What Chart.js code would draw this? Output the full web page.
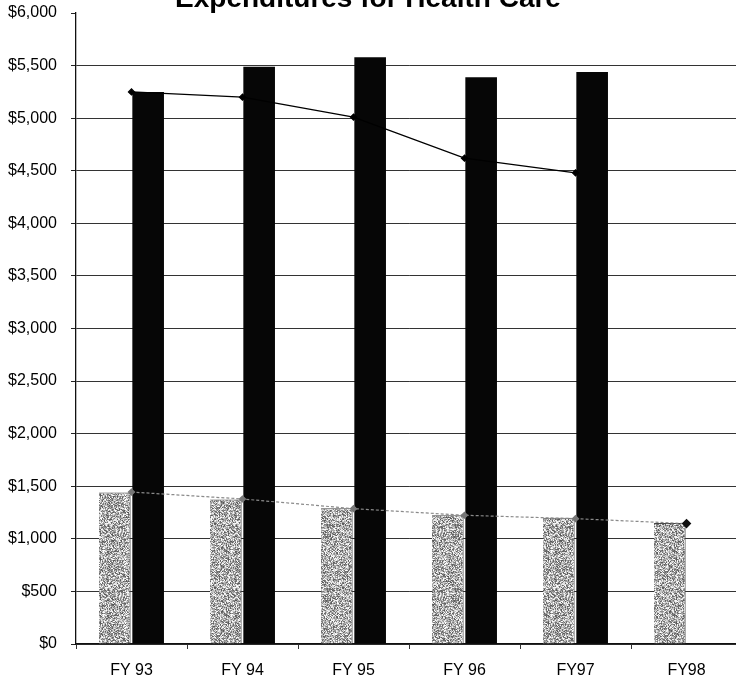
<!DOCTYPE html>
<html>
<head>
<meta charset="utf-8">
<script src="https://cdn.jsdelivr.net/npm/chart.js@4.4.1/dist/chart.umd.min.js"></script>
<style>
  html, body { margin: 0; padding: 0; background: #fff; overflow: hidden; }
  #wrap { position: absolute; left: 0; top: 0; width: 760px; height: 686px; }
</style>
</head>
<body>
<div id="wrap"><canvas id="c"></canvas></div>
<script>
// ---- data ----
const categories = ['FY 93', 'FY 94', 'FY 95', 'FY 96', 'FY97', 'FY98'];
const greyBars   = [1440, 1375, 1290, 1225, 1200, 1150];
const blackBars  = [5250, 5490, 5580, 5390, 5440, null];
const upperLine  = [5250, 5200, 5010, 4620, 4480, null];
const lowerLine  = [1445, 1379, 1287, 1224, 1192, 1145];
const yTicks = { min: 0, max: 6000, step: 500 };
const titleText = 'Expenditures for Health Care';

// ---- stipple pattern for the grey bars ----
function makeStipple() {
  const pc = document.createElement('canvas');
  pc.width = 64; pc.height = 64;
  const g = pc.getContext('2d');
  const img = g.createImageData(64, 64);
  for (let y = 0; y < 64; y++) {
    for (let x = 0; x < 64; x++) {
      let n = Math.sin(x * 12.9898 + y * 78.233) * 43758.5453;
      n = n - Math.floor(n);
      const v = Math.round(85 + n * 175);
      const i = (y * 64 + x) * 4;
      img.data[i] = v; img.data[i + 1] = v; img.data[i + 2] = v; img.data[i + 3] = 255;
    }
  }
  g.putImageData(img, 0, 0);
  return g.createPattern(pc, 'repeat');
}
const stipple = makeStipple();

const FONT = 'Liberation Sans, Arial, Helvetica, sans-serif';

const titlePlugin = {
  id: 'croppedTitle',
  afterDraw(chart) {
    const ctx = chart.ctx;
    ctx.save();
    ctx.font = 'bold 28px ' + FONT;
    ctx.fillStyle = '#000';
    ctx.textAlign = 'center';
    ctx.textBaseline = 'alphabetic';
    ctx.fillText(titleText, 368, 7);
    ctx.restore();
  }
};

new Chart(document.getElementById('c'), {
  type: 'bar',
  data: {
    labels: categories,
    datasets: [
      {
        type: 'line', data: upperLine, order: 0,
        borderColor: '#000', borderWidth: 1.3,
        pointStyle: 'rectRot', pointRadius: 3,
        pointBackgroundColor: '#000', pointBorderColor: '#000',
        tension: 0, spanGaps: false
      },
      {
        type: 'line', data: lowerLine, order: 0,
        borderColor: '#8a8a8a', borderWidth: 1.2, borderDash: [3, 2],
        pointStyle: 'rectRot',
        pointRadius: (c) => c.dataIndex === categories.length - 1 ? 4 : 3,
        pointBackgroundColor: (c) => c.dataIndex === categories.length - 1 ? '#111' : '#777',
        pointBorderColor: (c) => c.dataIndex === categories.length - 1 ? '#111' : '#777',
        tension: 0
      },
      {
        type: 'bar', data: greyBars, order: 1,
        backgroundColor: stipple,
        borderColor: '#444', borderWidth: { top: 1, right: 1, left: 0, bottom: 0 },
        categoryPercentage: 0.6, barPercentage: 0.95
      },
      {
        type: 'bar', data: blackBars, order: 1,
        backgroundColor: '#060606',
        borderWidth: 0,
        categoryPercentage: 0.6, barPercentage: 0.95
      }
    ]
  },
  options: {
    responsive: true,
    maintainAspectRatio: false,
    animation: false,
    layout: { padding: { top: 13, right: 18, left: 0, bottom: 0 } },
    plugins: {
      legend: { display: false },
      title: { display: false },
      tooltip: { enabled: false }
    },
    scales: {
      x: {
        offset: true,
        grid: {
          display: true, drawOnChartArea: false, drawTicks: true,
          tickLength: 5, tickColor: '#333', offset: true
        },
        border: { display: true, color: '#111', width: 1.3 },
        ticks: {
          color: '#000', padding: 12,
          font: { family: FONT, size: 16 }
        },
        afterFit(scale) { scale.height = 42; scale.paddingLeft = 0; scale.paddingRight = 0; }
      },
      y: {
        min: yTicks.min, max: yTicks.max,
        grid: {
          color: (c) => (c.tick && c.tick.value === yTicks.max) ? 'rgba(0,0,0,0)' : '#333',
          tickColor: '#222',
          lineWidth: 1,
          tickLength: 5
        },
        border: { display: true, color: '#111', width: 1.3 },
        ticks: {
          stepSize: yTicks.step,
          color: '#000', padding: 14,
          font: { family: FONT, size: 16 },
          callback: (v) => '$' + Number(v).toLocaleString('en-US')
        },
        afterFit(scale) { scale.width = 76; scale.paddingTop = 0; scale.paddingBottom = 0; }
      }
    }
  },
  plugins: [titlePlugin]
});
</script>
</body>
</html>
